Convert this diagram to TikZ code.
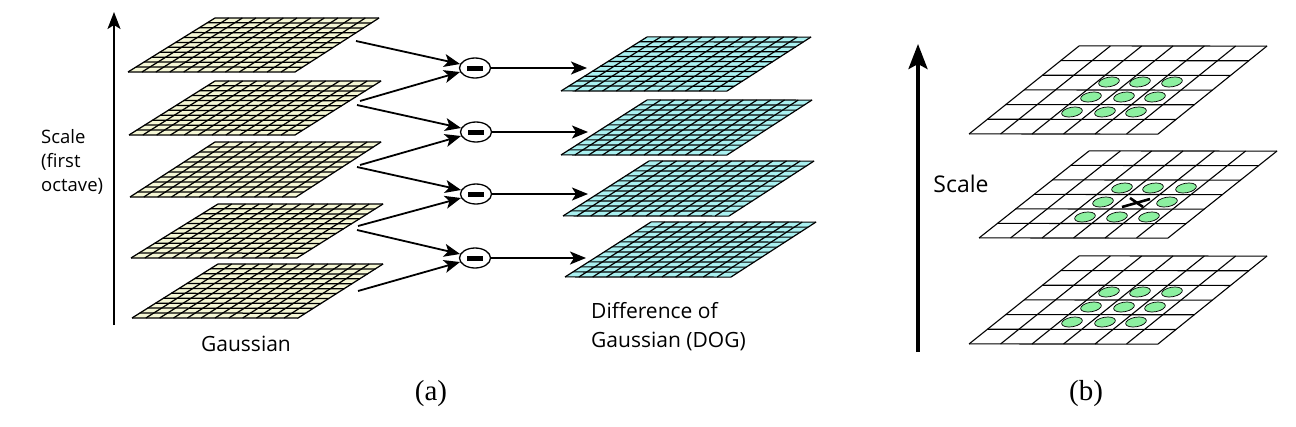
\documentclass[tikz,border=0pt]{standalone}
\usepackage{fontspec}
\setmainfont{Liberation Serif}
\newfontfamily\labelfont{Open Sans}
\usetikzlibrary{arrows.meta,calc,shapes.geometric}
\definecolor{gaussfill}{HTML}{F4F6D4}
\definecolor{dogfill}{HTML}{A9F0F0}
\definecolor{blobfill}{HTML}{8CF0A0}
\tikzset{
  lbl/.style={font=\labelfont\fontsize{18.5}{24}\selectfont,inner sep=0pt,align=left},
  biglbl/.style={font=\labelfont\fontsize{21}{29}\selectfont,inner sep=0pt,align=left},
  caption/.style={font=\fontsize{29}{32}\selectfont,inner sep=0pt},
  flow/.style={line width=1.8pt,-{Stealth[length=16pt,width=13pt,inset=4pt]}},
  opnode/.style={draw,ellipse,fill=white,line width=1.3pt,minimum width=31pt,minimum height=20pt,inner sep=0pt},
  blob/.style={draw,fill=blobfill,line width=.7pt,ellipse,minimum width=21pt,minimum height=9.5pt,inner sep=0pt,rotate=10},
}
% \gridplane{TL}{TR}{BL}{BR}{columns}{rows}{fill}{line width}
% The row lines carry a very slight slope so the renderer does not snap them to uneven pixel widths.
\newcommand{\gridplane}[8]{%
  \fill[#7] (#1) -- (#2) -- (#4) -- (#3) -- cycle;
  \pgfmathtruncatemacro{\nc}{#5}\pgfmathtruncatemacro{\nr}{#6}%
  \foreach \i in {0,...,\nc}{\draw[line width=#8] ($(#1)!\i/\nc!(#2)$) -- ($(#3)!\i/\nc!(#4)$);}
  \foreach \j in {0,...,\nr}{\draw[line width=#8] ($(#1)!\j/\nr!(#3)+(0,-.12)$) -- ($(#2)!\j/\nr!(#4)+(0,.12)$);}
}
\begin{document}
\begin{tikzpicture}[x=1pt,y=-1pt]
\useasboundingbox (0,0) rectangle (1296,426);
\fill[white] (0,0) rectangle (1296,426);

% Gaussian stack
\gridplane{215,18}{379,18}{128,72}{295,72}{12}{11}{gaussfill}{1.25pt}
\gridplane{215,81}{381,81}{129,135}{295,135}{12}{11}{gaussfill}{1.25pt}
\gridplane{215,142}{381,142}{130,197}{296,197}{12}{11}{gaussfill}{1.25pt}
\gridplane{218,204}{383,204}{131,258}{297,258}{12}{11}{gaussfill}{1.25pt}
\gridplane{218,264}{383,264}{132,318}{298,318}{12}{11}{gaussfill}{1.25pt}

% DOG stack
\gridplane{647,37}{811,37}{561,91}{727,91}{12}{11}{dogfill}{1.2pt}
\gridplane{647,100}{812,100}{561,155}{727,155}{12}{11}{dogfill}{1.2pt}
\gridplane{649,161}{814,161}{563,216}{729,216}{12}{11}{dogfill}{1.2pt}
\gridplane{651,222}{816,222}{565,277}{731,277}{12}{11}{dogfill}{1.2pt}

% subtraction nodes
\node[opnode] (m1) at (475,68) {\rule[-2.5pt]{16pt}{5pt}};
\node[opnode] (m2) at (476,132) {\rule[-2.5pt]{16pt}{5pt}};
\node[opnode] (m3) at (476,194) {\rule[-2.5pt]{16pt}{5pt}};
\node[opnode] (m4) at (475,258) {\rule[-2.5pt]{16pt}{5pt}};

% connector ends
\coordinate (a1) at (356,41);
\coordinate (b1) at (360,101);
\coordinate (a2) at (357,105);
\coordinate (b2) at (360,165);
\coordinate (a3) at (357,167);
\coordinate (b3) at (358,226);
\coordinate (a4) at (357,230);
\coordinate (b4) at (358,291);
\coordinate (o1) at (587,68);
\coordinate (o2) at (588,132);
\coordinate (o3) at (588,194);
\coordinate (o4) at (586,258);
\foreach \k in {1,2,3,4}{
  \draw[flow] (a\k) -- (m\k.165);
  \draw[flow] (b\k) -- (m\k.195);
  \draw[flow] (m\k.east) -- (o\k);
}

% scale axis (a)
\coordinate (sa0) at (114,325);
\coordinate (sa1) at (114,12);
\draw[line width=2pt,-{Stealth[length=17pt,width=13pt,inset=4pt]}] (sa0) -- (sa1);

\node[lbl,anchor=north west] (scaleA) at (41,129) {Scale\\(first\\octave)};
\node[biglbl] (gaussLbl) at (246,344) {Gaussian};
\node[biglbl,anchor=north west] (dogLbl) at (591,302) {Difference of\\Gaussian (DOG)};
\node[caption] (capA) at (431,394) {(a)};
\node[caption] (capB) at (1086,394) {(b)};

% right panel
\coordinate (sb0) at (918,352);
\coordinate (sb1) at (918,44);
\draw[line width=3.6pt,-{Stealth[length=25pt,width=19pt,inset=5pt]}] (sb0) -- (sb1);
\node[font=\labelfont\fontsize{23}{27}\selectfont,inner sep=0pt] (scaleB) at (961,184) {Scale};

\gridplane{1079,46}{1267,46}{969,134}{1158,134}{6}{6}{white}{1.1pt}
\gridplane{1089,151}{1277,151}{979,238}{1168,238}{6}{6}{white}{1.1pt}
\gridplane{1079,256}{1267,256}{969,344}{1158,344}{6}{6}{white}{1.1pt}

\foreach \px/\py in {1109/82,1140/82,1172/82,1091/97,1124/97,1155/97,1072/112,1105/112,1136/112,
                     1109/292,1140/292,1172/292,1091/307,1124/307,1155/307,1072/322,1105/322,1136/322,
                     1122/188,1153/188,1186/188,1103/202,1167/202,1085/217,1117/217,1149/217}{
  \node[blob] at (\px,\py) {};
}
\coordinate (x1) at (1122,207);
\coordinate (x2) at (1150,199);
\coordinate (x3) at (1130,198);
\coordinate (x4) at (1143,207);
\draw[line width=2.6pt] (x1) -- (x2);
\draw[line width=2.6pt] (x3) -- (x4);
\end{tikzpicture}
\end{document}
